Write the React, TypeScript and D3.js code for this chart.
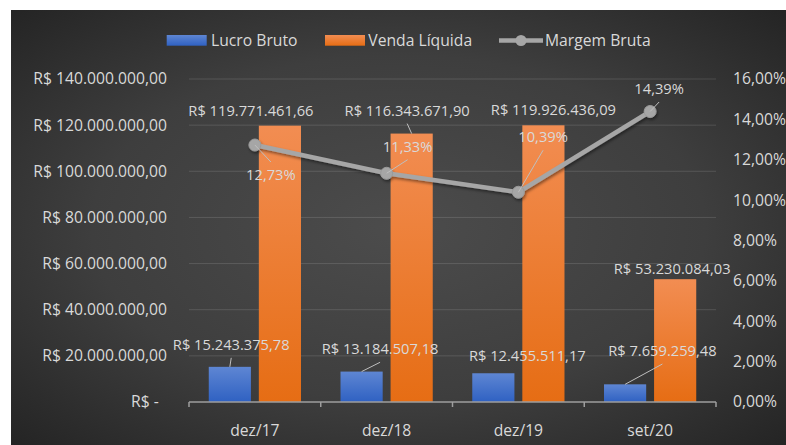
import React from "react";
import * as d3 from "d3";

const categories = ["dez/17", "dez/18", "dez/19", "set/20"];
const lucroBruto = [15243375.78, 13184507.18, 12455511.17, 7659259.48];
const vendaLiquida = [119771461.66, 116343671.9, 119926436.09, 53230084.03];
const margemBruta = [0.1273, 0.1133, 0.1039, 0.1439];
const leftTicks = [0, 20e6, 40e6, 60e6, 80e6, 100e6, 120e6, 140e6];
const rightTicks = [0, 0.02, 0.04, 0.06, 0.08, 0.1, 0.12, 0.14, 0.16];
const seriesNames = ["Lucro Bruto", "Venda Líquida", "Margem Bruta"];

// label placement (styling, px offsets from the mark)
const vendaLabelOffset = [[-29, -15], [-4.5, -23], [10, -15], [-3, -10]];
const lucroLabelOffset = [[1.4, -22], [18.5, -22.3], [34, -17.6], [37.3, -33.3]];
const margemLabelOffset = [[16, 30], [21, -26.6], [24.7, -55], [9, -22.5]];
const vendaLeader = [false, true, false, false];
const lucroLeader = [true, true, false, true];
const margemLeader = [true, true, true, true];

const W = 786;
const H = 445;
const plot = { left: 189, right: 716, top: 79, bottom: 402 };
const FONT = "'Open Sans', 'Noto Sans', sans-serif";
const TXT = "#d9d9d9";

const br = d3.formatLocale({
  decimal: ",",
  thousands: ".",
  grouping: [3],
  currency: ["R$ ", ""],
});
const fmtMoney = br.format("$,.2f");
const fmtPct = br.format(",.2%");

export default function App() {
  const x0 = d3.scaleBand<string>().domain(categories).range([plot.left, plot.right]).padding(0);
  const yL = d3.scaleLinear().domain([0, 140e6]).range([plot.bottom, plot.top]);
  const yR = d3.scaleLinear().domain([0, 0.16]).range([plot.bottom, plot.top]);
  const bw = x0.bandwidth();
  const barW = bw * 0.32;
  const gap = bw * 0.06;
  const center = (c: string) => (x0(c) as number) + bw / 2;

  const linePts: [number, number][] = categories.map((c, i) => [center(c), yR(margemBruta[i])]);
  const lineGen = d3.line();

  const leader = (lx: number, ly: number, mx: number, my: number, key: string) => {
    const sy = ly + (my > ly ? 13 : -13);
    return <line key={key} x1={lx} y1={sy} x2={mx} y2={my} stroke="#bfbfbf" strokeWidth={1} />;
  };

  const labels: React.ReactNode[] = [];
  const leaders: React.ReactNode[] = [];
  categories.forEach((c, i) => {
    const cx = center(c);
    // venda
    const vx = cx + gap / 2 + barW / 2;
    const vy = yL(vendaLiquida[i]);
    const vlx = vx + vendaLabelOffset[i][0];
    const vly = vy + vendaLabelOffset[i][1];
    labels.push(
      <text key={"vl" + i} x={vlx} y={vly} dy="0.35em" textAnchor="middle" fontSize={14.7} fill={TXT}>
        {fmtMoney(vendaLiquida[i])}
      </text>
    );
    if (vendaLeader[i]) leaders.push(leader(vlx, vly, vx, vy, "vld" + i));
    // lucro
    const lx = cx - gap / 2 - barW / 2;
    const ly = yL(lucroBruto[i]);
    const llx = lx + lucroLabelOffset[i][0];
    const lly = ly + lucroLabelOffset[i][1];
    labels.push(
      <text key={"ll" + i} x={llx} y={lly} dy="0.35em" textAnchor="middle" fontSize={14.7} fill={TXT}>
        {fmtMoney(lucroBruto[i])}
      </text>
    );
    if (lucroLeader[i]) leaders.push(leader(llx, lly, lx, ly, "lld" + i));
    // margem
    const [mx, my] = linePts[i];
    const mlx = mx + margemLabelOffset[i][0];
    const mly = my + margemLabelOffset[i][1];
    labels.push(
      <text key={"ml" + i} x={mlx} y={mly} dy="0.35em" textAnchor="middle" fontSize={14.7} fill={TXT}>
        {fmtPct(margemBruta[i])}
      </text>
    );
    if (margemLeader[i]) leaders.push(leader(mlx, mly, mx, my, "mld" + i));
  });

  const boundaries = [...categories.map((c) => x0(c) as number), plot.right];

  return (
    <svg
      width={W}
      height={H}
      style={{ position: "absolute", left: 0, top: 0, display: "block" }}
      fontFamily={FONT}
    >
      <defs>
        <radialGradient id="bg" cx="50%" cy="50%" r="72%">
          <stop offset="0%" stopColor="#4c4c4c" />
          <stop offset="55%" stopColor="#3e3e3e" />
          <stop offset="100%" stopColor="#232323" />
        </radialGradient>
        <linearGradient id="gBlue" x1="0" y1="0" x2="0" y2="1">
          <stop offset="0%" stopColor="#5e86d3" />
          <stop offset="100%" stopColor="#2f61c2" />
        </linearGradient>
        <linearGradient id="gOrange" x1="0" y1="0" x2="0" y2="1">
          <stop offset="0%" stopColor="#f28d52" />
          <stop offset="100%" stopColor="#e66d14" />
        </linearGradient>
        <filter id="shadow" x="-20%" y="-20%" width="140%" height="160%">
          <feDropShadow dx="1" dy="2" stdDeviation="1.5" floodColor="#000" floodOpacity="0.45" />
        </filter>
      </defs>
      <rect x={0} y={0} width={W} height={H} fill="#ffffff" />
      <rect x={11} y={10} width={W - 11} height={H - 10} fill="url(#bg)" />

      {/* gridlines */}
      {leftTicks.slice(1).map((t) => (
        <line key={"g" + t} x1={plot.left} x2={plot.right} y1={yL(t)} y2={yL(t)} stroke="#ffffff" strokeOpacity={0.13} strokeWidth={1} />
      ))}

      {/* left axis labels */}
      {leftTicks.map((t) => (
        <text key={"lt" + t} x={167} y={yL(t)} dy="0.35em" textAnchor="end" fontSize={15.7} fill={TXT}>
          {t === 0 ? "R$ -\u00a0\u00a0" : fmtMoney(t)}
        </text>
      ))}
      {/* right axis labels */}
      {rightTicks.map((t) => (
        <text key={"rt" + t} x={733} y={yR(t)} dy="0.35em" textAnchor="start" fontSize={15.7} fill={TXT}>
          {fmtPct(t)}
        </text>
      ))}

      {/* bars */}
      {categories.map((c, i) => {
        const cx = center(c);
        return (
          <g key={"b" + c}>
            <rect x={cx - gap / 2 - barW} y={yL(lucroBruto[i])} width={barW} height={plot.bottom - yL(lucroBruto[i])} fill="url(#gBlue)" />
            <rect x={cx + gap / 2} y={yL(vendaLiquida[i])} width={barW} height={plot.bottom - yL(vendaLiquida[i])} fill="url(#gOrange)" />
          </g>
        );
      })}

      {/* x axis */}
      <line x1={plot.left} x2={plot.right} y1={plot.bottom} y2={plot.bottom} stroke="#9e9e9e" strokeWidth={1.5} />
      {boundaries.map((b, i) => (
        <line key={"tk" + i} x1={b} x2={b} y1={plot.bottom} y2={plot.bottom + 5} stroke="#9e9e9e" strokeWidth={1.5} />
      ))}
      {categories.map((c) => (
        <text key={"cat" + c} x={center(c)} y={431} dy="0.35em" textAnchor="middle" fontSize={15.7} fill={TXT}>
          {c}
        </text>
      ))}

      {/* line */}
      <g filter="url(#shadow)">
        <path d={lineGen(linePts) || ""} fill="none" stroke="#a6a6a6" strokeWidth={4.5} strokeLinejoin="round" />
        {linePts.map(([px, py], i) => (
          <circle key={"pt" + i} cx={px} cy={py} r={6} fill="#a6a6a6" stroke="#9a9a9a" strokeWidth={1} />
        ))}
      </g>

      {leaders}
      {labels}

      {/* legend */}
      <g>
        <rect x={166.7} y={35} width={40} height={10.7} fill="url(#gBlue)" />
        <text x={211} y={40.5} dy="0.35em" fontSize={15.7} fill={TXT}>{seriesNames[0]}</text>
        <rect x={325} y={35} width={40} height={10.7} fill="url(#gOrange)" />
        <text x={368.3} y={40.5} dy="0.35em" fontSize={15.7} fill={TXT}>{seriesNames[1]}</text>
        <line x1={499} x2={543} y1={40.5} y2={40.5} stroke="#a6a6a6" strokeWidth={4.5} />
        <circle cx={521} cy={40.5} r={5.5} fill="#a6a6a6" />
        <text x={545} y={40.5} dy="0.35em" fontSize={15.7} fill={TXT}>{seriesNames[2]}</text>
      </g>
    </svg>
  );
}
